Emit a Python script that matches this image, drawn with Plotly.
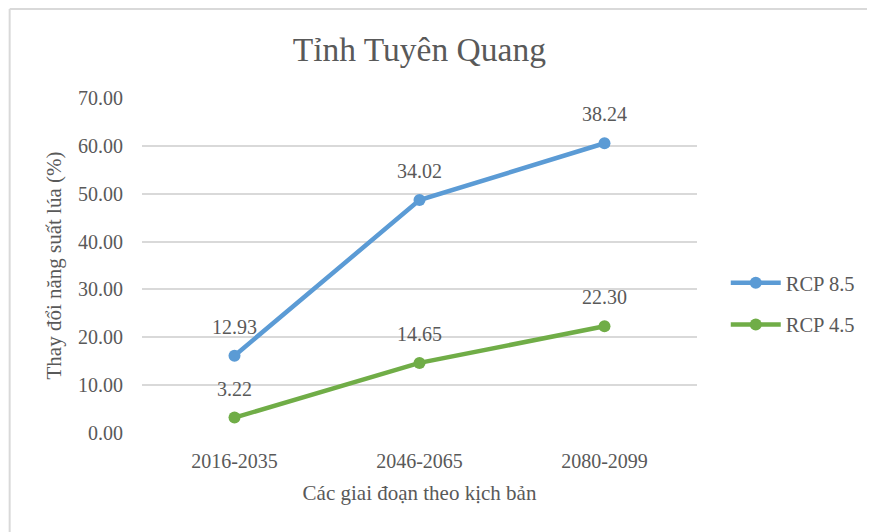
import numpy as np
import plotly.graph_objects as go

categories = ["2016-2035", "2046-2065", "2080-2099"]
rcp45 = [3.22, 14.65, 22.30]
rcp85 = [12.93, 34.02, 38.24]
y_ticks = [0, 10, 20, 30, 40, 50, 60, 70]
y_tick_labels = [f"{v:.2f}" for v in y_ticks]

# Excel "stacked line": RCP 8.5 plotted on top of RCP 4.5
stack45 = np.array(rcp45)
stack85 = stack45 + np.array(rcp85)

FONT = "Liberation Serif"
GRAY = "#595959"
BLUE = "#5B9BD5"
GREEN = "#70AD47"

OFF = 8  # page body margin offset
L, T = 141.5 - OFF, 98 - OFF
PW, PH = 555.7, 335

fig = go.Figure()
fig.add_trace(go.Scatter(x=categories, y=stack85, name="RCP 8.5", mode="lines+markers",
                         line=dict(color=BLUE, width=4.5), marker=dict(size=12, color=BLUE),
                         legendgroup="a", legendrank=1))
fig.add_trace(go.Scatter(x=categories, y=stack45, name="RCP 4.5", mode="lines+markers",
                         line=dict(color=GREEN, width=4.5), marker=dict(size=12, color=GREEN),
                         legendgroup="b", legendrank=2))

for ys, vals in ((stack85, rcp85), (stack45, rcp45)):
    for c, yv, v in zip(categories, ys, vals):
        fig.add_annotation(x=c, y=yv, text=f"{v:.2f}", showarrow=False, yshift=29,
                           font=dict(family=FONT, size=20, color=GRAY))

fig.update_layout(
    width=875, height=532,
    paper_bgcolor="white", plot_bgcolor="white",
    margin=dict(l=L, r=875 - L - PW, t=T, b=532 - T - PH),
    title=dict(text="Tỉnh Tuyên Quang", x=(L + 0.5 * PW) / 875, xanchor="center",
               y=1 - (49 - OFF) / 532, yanchor="middle",
               font=dict(family=FONT, size=33.5, color=GRAY)),
    font=dict(family=FONT, size=20, color=GRAY),
    showlegend=True,
    legend=dict(x=(732 - OFF - 6 - L) / PW, y=(433 - 304) / PH, xanchor="left", yanchor="middle",
                font=dict(family=FONT, size=20.5, color=GRAY), tracegroupgap=12,
                itemwidth=50, bgcolor="rgba(0,0,0,0)"),
    xaxis=dict(type="category", range=[-0.5, 2.5], showgrid=False, zeroline=False,
               showline=False, ticks="", ticklabelstandoff=14,
               tickfont=dict(family=FONT, size=20, color=GRAY),
               title=dict(text="Các giai đoạn theo kịch bản", standoff=14,
                          font=dict(family=FONT, size=21, color=GRAY))),
    yaxis=dict(range=[0, 70], tickvals=y_ticks, ticktext=y_tick_labels,
               showgrid=True, gridcolor="#D9D9D9", gridwidth=1.5,
               zeroline=False, showline=False, ticks="", ticklabelstandoff=18,
               tickfont=dict(family=FONT, size=20, color=GRAY),
               title=dict(text="Thay đổi năng suất lúa (%)", standoff=10,
                          font=dict(family=FONT, size=21, color=GRAY))),
)

# chart frame (top & left edges); left edge sits at the figure's left border
fx0 = (1 - L) / PW
fy1 = (433 - 9) / PH
fig.add_shape(type="line", xref="paper", yref="paper", x0=fx0, x1=1.5, y0=fy1, y1=fy1,
              line=dict(color="#D9D9D9", width=2))
fig.add_shape(type="line", xref="paper", yref="paper", x0=fx0, x1=fx0, y0=-0.5, y1=fy1,
              line=dict(color="#D9D9D9", width=2))

fig.write_html("out.html")
